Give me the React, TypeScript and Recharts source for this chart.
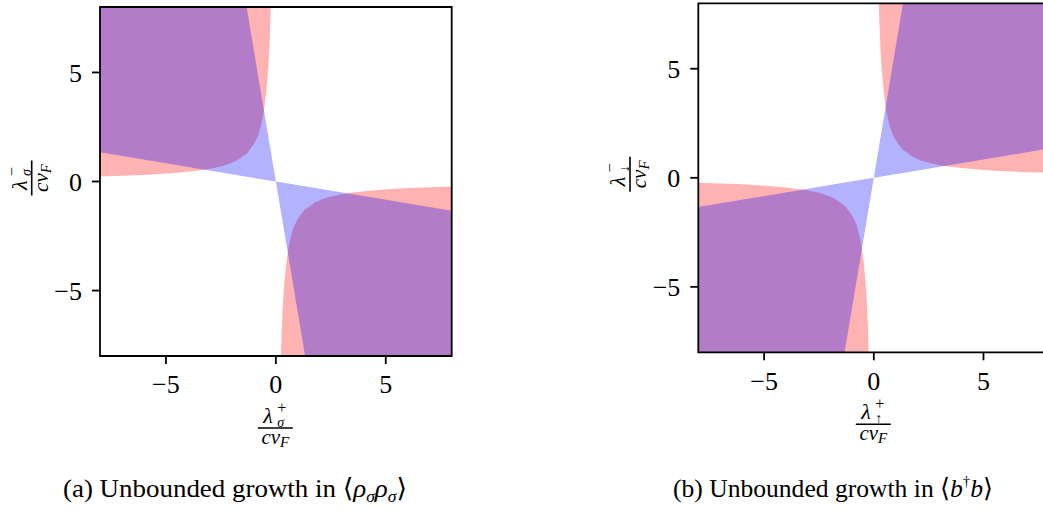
import React from "react"
import { ComposedChart, Area, XAxis, YAxis, ReferenceArea } from "recharts"

// corner curve of the red region, as magnitudes |x|, |y| (same shape in every quadrant)
const edgeAbsX = [8, 7, 6, 5.1, 4.5, 4.0, 3.5, 3.0, 2.5, 2.1, 1.8, 1.55, 1.3, 1.12, 0.95, 0.81, 0.69, 0.58, 0.51, 0.45, 0.4, 0.35, 0.3, 0.26, 0.23]
const edgeAbsY = [0.23, 0.26, 0.3, 0.35, 0.4, 0.45, 0.51, 0.58, 0.69, 0.81, 0.95, 1.12, 1.3, 1.55, 1.8, 2.1, 2.5, 3.0, 3.5, 4.0, 4.5, 5.1, 6.0, 7.0, 8.0]

// blue wedge between the two straight lines through the origin
const wedgeX = [-8, -1.33, 0, 1.33, 8]
const wedgeLowA = [1.34, 0.22, 0, -8, -8]
const wedgeHighA = [8, 8, 0, -0.22, -1.34]
const wedgeLowB = [-8, -8, 0, 0.22, 1.34]
const wedgeHighB = [-1.34, -0.22, 0, 8, 8]

const LIM = 8
const ticks = [-5, 0, 5]

type Pt = { x: number; r: [number, number] }

// region beyond the curve (|y| from curve to the frame) on side sx
const upperPiece = (sx: number): Pt[] =>
  edgeAbsX.map((ax, i) => ({ x: sx * ax, r: [edgeAbsY[i], LIM] as [number, number] })).sort((a, b) => a.x - b.x)
const lowerPiece = (sx: number): Pt[] =>
  edgeAbsX.map((ax, i) => ({ x: sx * ax, r: [-LIM, -edgeAbsY[i]] as [number, number] })).sort((a, b) => a.x - b.x)
const wedge = (lo: number[], hi: number[]): Pt[] => wedgeX.map((x, i) => ({ x, r: [lo[i], hi[i]] }))

const redA1 = upperPiece(-1)
const redA2 = lowerPiece(1)
const blueA = wedge(wedgeLowA, wedgeHighA)
const redB1 = upperPiece(1)
const redB2 = lowerPiece(-1)
const blueB = wedge(wedgeLowB, wedgeHighB)

const SERIF = "'Liberation Serif', 'DejaVu Serif', serif"
const fmt = (v: number) => (v < 0 ? `\u2212${-v}` : `${v}`)

function Frac({ cx, cy, rotate, sup, sub }: { cx: number; cy: number; rotate?: boolean; sup: string; sub: string }) {
  return (
    <g transform={rotate ? `rotate(-90 ${cx} ${cy})` : undefined} fontFamily={SERIF} fill="#000">
      <text x={cx - 12} y={cy - 5} fontSize={22} fontStyle="italic">
        λ
        <tspan x={cx + 2} y={cy - 15} fontSize={16} fontStyle="normal">{sup}</tspan>
        <tspan x={cx + 2} y={cy - 1} fontSize={14}>{sub}</tspan>
      </text>
      <line x1={cx - 17.5} x2={cx + 17.5} y1={cy} y2={cy} stroke="#000" strokeWidth={1.6} />
      <text x={cx} y={cy + 16} fontSize={21} fontStyle="italic" textAnchor="middle">
        cv<tspan fontSize={15} dy={3}>F</tspan>
      </text>
    </g>
  )
}

function XLabel(props: any) {
  const { viewBox, sup, sub } = props
  return <Frac cx={viewBox.x + viewBox.width / 2 - 0.5} cy={viewBox.y + 72} sup={sup} sub={sub} />
}

function YLabel(props: any) {
  const { viewBox, sup, sub } = props
  return <Frac cx={viewBox.x + 1.7} cy={viewBox.y + viewBox.height / 2 - 3.5} rotate sup={sup} sub={sub} />
}

const tickStyle = { fontSize: 26, fill: "#000", fontFamily: SERIF }
const tickLine = { stroke: "#000", strokeWidth: 1.8 }

function Panel({ left, margin, red1, red2, blue, xs, ys }: any) {
  return (
    <div style={{ position: "absolute", left, top: 0 }}>
      <ComposedChart width={470} height={460} margin={margin}>
        <XAxis
          type="number"
          dataKey="x"
          domain={[-LIM, LIM]}
          ticks={ticks}
          allowDataOverflow
          height={60}
          tickSize={8}
          tickMargin={11}
          tick={tickStyle}
          tickLine={tickLine}
          axisLine={false}
          tickFormatter={fmt}
          label={<XLabel sup="+" sub={xs} />}
        />
        <YAxis
          type="number"
          domain={[-LIM, LIM]}
          ticks={ticks}
          allowDataOverflow
          width={70}
          tickSize={8}
          tickMargin={10}
          tick={tickStyle}
          tickLine={tickLine}
          axisLine={false}
          tickFormatter={fmt}
          label={<YLabel sup={"\u2212"} sub={ys} />}
        />
        <Area data={red1} dataKey="r" type="linear" fill="#ff0000" fillOpacity={0.3} stroke="none" dot={false} activeDot={false} isAnimationActive={false} />
        <Area data={red2} dataKey="r" type="linear" fill="#ff0000" fillOpacity={0.3} stroke="none" dot={false} activeDot={false} isAnimationActive={false} />
        <Area data={blue} dataKey="r" type="linear" fill="#0000ff" fillOpacity={0.3} stroke="none" dot={false} activeDot={false} isAnimationActive={false} />
        <ReferenceArea x1={-LIM} x2={LIM} y1={-LIM} y2={LIM} fill="none" stroke="#000" strokeWidth={1.8} />
      </ComposedChart>
    </div>
  )
}

export default function App() {
  return (
    <div style={{ position: "absolute", left: 0, top: 0, width: 1043, height: 518, overflow: "hidden", background: "#fff" }}>
      <Panel left={0} margin={{ top: 7, right: 18.3, bottom: 44, left: 30 }} red1={redA1} red2={redA2} blue={blueA} xs="σ" ys="σ" />
      <Panel left={600} margin={{ top: 3.3, right: 20.7, bottom: 47.7, left: 28.3 }} red1={redB1} red2={redB2} blue={blueB} xs="↑" ys="↓" />
      <svg width={1043} height={518} style={{ position: "absolute", left: 0, top: 0, pointerEvents: "none" }} fontFamily={SERIF} fontSize={26}>
        <text x={63} y={497} textLength={344} lengthAdjust="spacingAndGlyphs">
          (a)  Unbounded growth in ⟨<tspan fontStyle="italic">ρ</tspan><tspan fontSize={17} fontStyle="italic" dy={5}>σ</tspan><tspan fontStyle="italic" dy={-5}>ρ</tspan><tspan fontSize={17} fontStyle="italic" dy={5}>σ</tspan><tspan dy={-5}>⟩</tspan>
        </text>
        <text x={673} y={497} textLength={320} lengthAdjust="spacingAndGlyphs">
          (b)  Unbounded growth in ⟨<tspan fontStyle="italic">b</tspan><tspan fontSize={15} dy={-11}>†</tspan><tspan fontStyle="italic" dy={11}>b</tspan>⟩
        </text>
      </svg>
    </div>
  )
}
